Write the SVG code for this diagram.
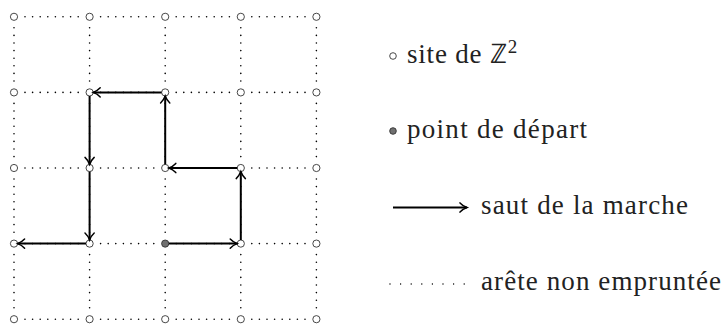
<svg xmlns="http://www.w3.org/2000/svg" width="726" height="324" viewBox="0 0 726 324">
<style>
.bg{fill:#fff}
.dot{stroke:#000;stroke-width:1.6;stroke-linecap:round;stroke-dasharray:0 7.6;fill:none}
.ldot{stroke:#000;stroke-width:1.4;stroke-linecap:round;stroke-dasharray:0 10.6;fill:none}
.site{fill:#fff;stroke:#333;stroke-width:0.9}
.start{fill:#707070;stroke:#333;stroke-width:0.9}
.jump{stroke:#000;stroke-width:2;fill:none;marker-end:url(#ah)}
</style>
<defs>
<marker id="ah" markerUnits="userSpaceOnUse" viewBox="-9 -6 11 12" refX="0" refY="0" markerWidth="11" markerHeight="12" orient="auto" overflow="visible">
<path d="M -7,-4.6 C -4.6,-2 -1.6,-0.6 0,0 C -1.6,0.6 -4.6,2 -7,4.6" stroke="#000" stroke-width="1.5" fill="none" stroke-linecap="round"/>
</marker>
</defs>
<rect class="bg" x="0" y="0" width="726" height="324"/>
<g id="grid-edges">
<path class="dot" d="M25,16.8H78.6M100.6,16.8H154.2M176.2,16.8H229.8M251.8,16.8H305.4
M25,92.4H78.6M100.6,92.4H154.2M176.2,92.4H229.8M251.8,92.4H305.4
M25,168H78.6M100.6,168H154.2M176.2,168H229.8M251.8,168H305.4
M25,243.6H78.6M100.6,243.6H154.2M176.2,243.6H229.8M251.8,243.6H305.4
M25,319.2H78.6M100.6,319.2H154.2M176.2,319.2H229.8M251.8,319.2H305.4
M14,27.8V81.4M14,103.4V157M14,179V232.6M14,254.6V308.2
M89.6,27.8V81.4M89.6,103.4V157M89.6,179V232.6M89.6,254.6V308.2
M165.2,27.8V81.4M165.2,103.4V157M165.2,179V232.6M165.2,254.6V308.2
M240.8,27.8V81.4M240.8,103.4V157M240.8,179V232.6M240.8,254.6V308.2
M316.4,27.8V81.4M316.4,103.4V157M316.4,179V232.6M316.4,254.6V308.2"/>
</g>
<g id="site-0-0"><circle class="site" cx="14" cy="16.8" r="3.6"/></g>
<g id="site-1-0"><circle class="site" cx="89.6" cy="16.8" r="3.6"/></g>
<g id="site-2-0"><circle class="site" cx="165.2" cy="16.8" r="3.6"/></g>
<g id="site-3-0"><circle class="site" cx="240.8" cy="16.8" r="3.6"/></g>
<g id="site-4-0"><circle class="site" cx="316.4" cy="16.8" r="3.6"/></g>
<g id="site-0-1"><circle class="site" cx="14" cy="92.4" r="3.6"/></g>
<g id="site-1-1"><circle class="site" cx="89.6" cy="92.4" r="3.6"/></g>
<g id="site-2-1"><circle class="site" cx="165.2" cy="92.4" r="3.6"/></g>
<g id="site-3-1"><circle class="site" cx="240.8" cy="92.4" r="3.6"/></g>
<g id="site-4-1"><circle class="site" cx="316.4" cy="92.4" r="3.6"/></g>
<g id="site-0-2"><circle class="site" cx="14" cy="168" r="3.6"/></g>
<g id="site-1-2"><circle class="site" cx="89.6" cy="168" r="3.6"/></g>
<g id="site-2-2"><circle class="site" cx="165.2" cy="168" r="3.6"/></g>
<g id="site-3-2"><circle class="site" cx="240.8" cy="168" r="3.6"/></g>
<g id="site-4-2"><circle class="site" cx="316.4" cy="168" r="3.6"/></g>
<g id="site-0-3"><circle class="site" cx="14" cy="243.6" r="3.6"/></g>
<g id="site-1-3"><circle class="site" cx="89.6" cy="243.6" r="3.6"/></g>
<g id="site-2-3"><circle class="start" cx="165.2" cy="243.6" r="3.6"/></g>
<g id="site-3-3"><circle class="site" cx="240.8" cy="243.6" r="3.6"/></g>
<g id="site-4-3"><circle class="site" cx="316.4" cy="243.6" r="3.6"/></g>
<g id="site-0-4"><circle class="site" cx="14" cy="319.2" r="3.6"/></g>
<g id="site-1-4"><circle class="site" cx="89.6" cy="319.2" r="3.6"/></g>
<g id="site-2-4"><circle class="site" cx="165.2" cy="319.2" r="3.6"/></g>
<g id="site-3-4"><circle class="site" cx="240.8" cy="319.2" r="3.6"/></g>
<g id="site-4-4"><circle class="site" cx="316.4" cy="319.2" r="3.6"/></g>
<g id="connectors">
<line class="jump" x1="168.8" y1="243.6" x2="237.2" y2="243.6"/>
<line class="jump" x1="240.8" y1="240" x2="240.8" y2="171.6"/>
<line class="jump" x1="237.2" y1="168" x2="168.8" y2="168"/>
<line class="jump" x1="165.2" y1="164.4" x2="165.2" y2="96"/>
<line class="jump" x1="161.6" y1="92.4" x2="93.2" y2="92.4"/>
<line class="jump" x1="89.6" y1="96" x2="89.6" y2="164.4"/>
<line class="jump" x1="89.6" y1="171.6" x2="89.6" y2="240"/>
<line class="jump" x1="86" y1="243.6" x2="17.6" y2="243.6"/>
</g>
<g id="legend-site">
<circle class="site" cx="393" cy="56" r="3.3"/>
<text style="font-family:'Liberation Serif',Times,serif;font-size:27px;fill:#222" x="407" y="62.5" letter-spacing="0.8">site de ℤ<tspan font-size="19" dy="-10">2</tspan></text>
</g>
<g id="legend-start">
<circle class="start" cx="393" cy="131" r="3.3"/>
<text style="font-family:'Liberation Serif',Times,serif;font-size:27px;fill:#222" x="407" y="137.5" textLength="180" lengthAdjust="spacing">point de départ</text>
</g>
<g id="legend-jump">
<line class="jump" x1="393" y1="207.5" x2="467" y2="207.5"/>
<text style="font-family:'Liberation Serif',Times,serif;font-size:27px;fill:#222" x="481" y="214" textLength="207" lengthAdjust="spacing">saut de la marche</text>
</g>
<g id="legend-edge">
<path class="ldot" d="M390,284H466"/>
<text style="font-family:'Liberation Serif',Times,serif;font-size:27px;fill:#222" x="481" y="289.5" textLength="240" lengthAdjust="spacing">arête non empruntée</text>
</g>
</svg>
